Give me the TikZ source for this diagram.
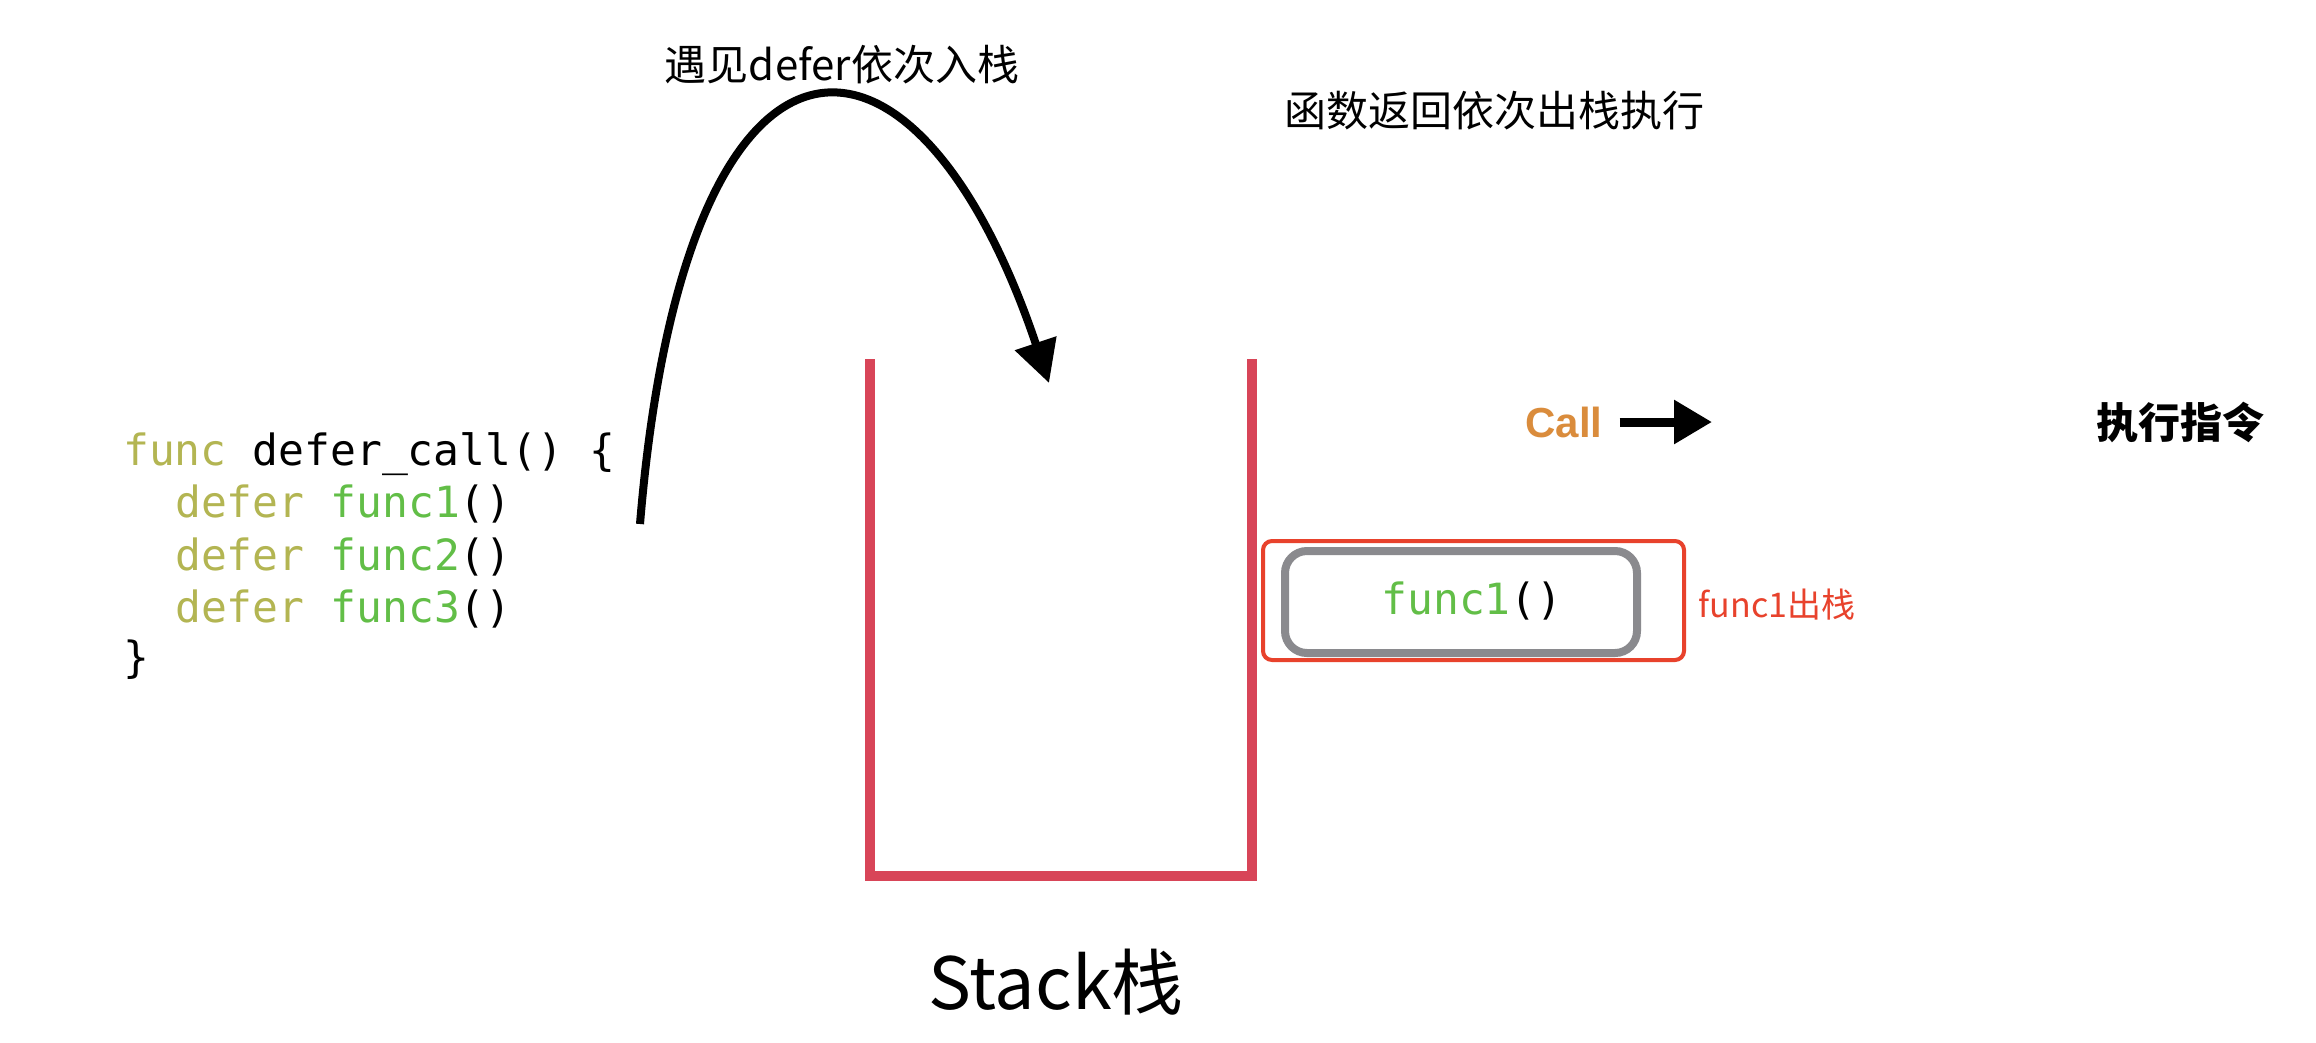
\documentclass[tikz,border=0pt]{standalone}
\usepackage{fontspec}
\setmainfont{Noto Sans CJK SC}
\setmonofont{DejaVu Sans Mono}
\newfontfamily\callfont{Liberation Sans}
\usetikzlibrary{arrows.meta}
\definecolor{kwol}{HTML}{B3B552}
\definecolor{fngreen}{HTML}{62BE47}
\definecolor{stackred}{HTML}{D84558}
\definecolor{callorange}{HTML}{DA8C3C}
\definecolor{annred}{HTML}{E8422C}
\definecolor{boxgray}{HTML}{8A8A8E}
\tikzset{
  codetxt/.style={anchor=base west, inner sep=0pt, font=\ttfamily\fontsize{43}{50}\selectfont},
  label42/.style={inner sep=0pt, font=\fontsize{42}{50}\selectfont},
  stackline/.style={draw=stackred, line width=10pt, line join=miter},
  bigarrow/.style={draw=black, line width=8pt, -{Triangle[length=42pt,width=42pt]}},
}
\begin{document}
\begin{tikzpicture}[x=1pt,y=-1pt]
\fill[white] (0,0) rectangle (2316,1042);
\useasboundingbox (0,0) rectangle (2316,1042);

% code
\node[codetxt] (l1) at (123,465) {\textcolor{kwol}{func} defer\_call() \{};
\node[codetxt] (l2) at (175,517) {\textcolor{kwol}{defer} \textcolor{fngreen}{func1}()};
\node[codetxt] (l3) at (175,570) {\textcolor{kwol}{defer} \textcolor{fngreen}{func2}()};
\node[codetxt] (l4) at (175,622) {\textcolor{kwol}{defer} \textcolor{fngreen}{func3}()};
\node[codetxt] (l5) at (123,672) {\}};

% labels
\node[label42] (push) at (842,65) {遇见defer依次入栈};
\node[label42] (pop) at (1494,111) {函数返回依次出栈执行};

% stack
\coordinate (stl) at (870,359);
\coordinate (sbl) at (870,876);
\coordinate (sbr) at (1252,876);
\coordinate (str) at (1252,359);
\draw[stackline] (stl) -- (sbl) -- (sbr) -- (str);
\node[inner sep=0pt, font=\fontsize{72}{80}\selectfont] (stk) at (1056,982) {Stack栈};

% curved push arrow
\coordinate (cs) at (640,524);
\coordinate (ce) at (1049,383);
\draw[bigarrow] (cs) .. controls (685,-20) and (915,-15) .. (ce);

% call
\node[inner sep=0pt, text=callorange, font=\callfont\bfseries\fontsize{42}{50}\selectfont] (call) at (1564,422) {Call};
\coordinate (callend) at (1712,422);
\draw[bigarrow, line width=9pt, -{Triangle[length=38pt,width=42pt]}] ([xshift=17pt]call.east) -- (callend);
\node[label42, font=\bfseries\fontsize{42}{50}\selectfont] (exec) at (2180,422) {执行指令};

% popped func1
\node[draw=boxgray, line width=8pt, rounded corners=22pt, minimum width=352pt, minimum height=102pt, inner sep=0pt] (box) at (1461,602) {};
\node[inner sep=0pt, font=\ttfamily\fontsize{43}{50}\selectfont] (f1txt) at (1472,601) {\textcolor{fngreen}{func1}()};
\node[draw=annred, line width=4pt, rounded corners=9pt, minimum width=421pt, minimum height=119pt, inner sep=0pt] (ann) at (1473.5,600.5) {};
\node[inner sep=0pt, text=annred, font=\fontsize{34}{40}\selectfont] (annlbl) at (1777,605) {func1出栈};
\end{tikzpicture}
\end{document}
